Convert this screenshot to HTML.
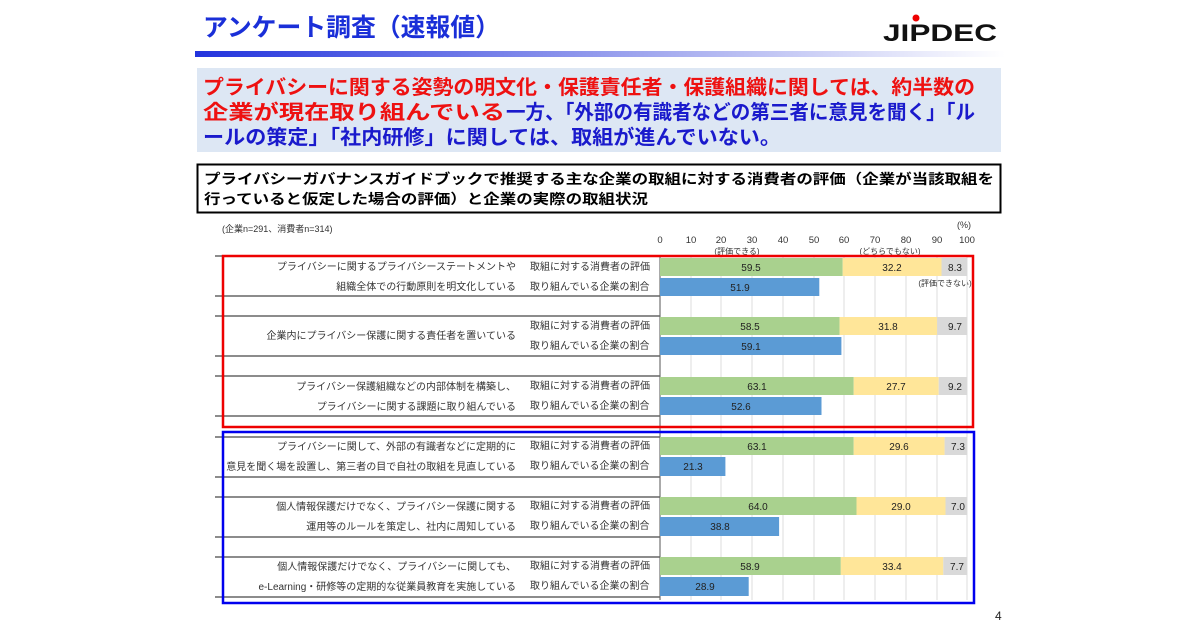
<!DOCTYPE html>
<html><head><meta charset="utf-8"><style>
body{margin:0;width:1200px;height:630px;background:#fff;overflow:hidden;font-family:"Liberation Sans","Noto Sans CJK JP",sans-serif}
</style></head><body>
<svg width="1200" height="630" xmlns="http://www.w3.org/2000/svg" font-family="Liberation Sans, Noto Sans CJK JP, sans-serif">
<defs><linearGradient id="g" x1="0" x2="1"><stop offset="0" stop-color="#2233dd"/><stop offset="0.6" stop-color="#aab0f0"/><stop offset="1" stop-color="#fff"/></linearGradient></defs>
<text x="203" y="36" font-size="25" font-weight="bold" fill="#1a2fd8" textLength="297" lengthAdjust="spacingAndGlyphs">アンケート調査（速報値）</text>
<text x="883" y="41" font-size="24" font-weight="bold" fill="#111" textLength="114" lengthAdjust="spacingAndGlyphs">JIPDEC</text>
<circle cx="916" cy="18" r="3.5" fill="#e00"/>
<rect x="195" y="51" width="810" height="6" fill="url(#g)"/>
<rect x="197" y="68" width="804" height="84" fill="#dde7f4"/>
<g font-size="20" font-weight="bold">
<text x="203" y="94" fill="#ee1111" textLength="772" lengthAdjust="spacingAndGlyphs">プライバシーに関する姿勢の明文化・保護責任者・保護組織に関しては、約半数の</text>
<text x="203" y="119" fill="#ee1111" textLength="302" lengthAdjust="spacingAndGlyphs">企業が現在取り組んでいる</text>
<text x="506" y="119" fill="#1a1acc" textLength="469" lengthAdjust="spacingAndGlyphs">一方、「外部の有識者などの第三者に意見を聞く」「ル</text>
<text x="203" y="144" fill="#1a1acc" textLength="578" lengthAdjust="spacingAndGlyphs">ールの策定」「社内研修」に関しては、取組が進んでいない。</text>
</g>
<rect x="197.5" y="164.5" width="803" height="48" fill="#fff" stroke="#000" stroke-width="2"/>
<g font-size="14" font-weight="bold" fill="#000">
<text x="204" y="184" textLength="790" lengthAdjust="spacingAndGlyphs">プライバシーガバナンスガイドブックで推奨する主な企業の取組に対する消費者の評価（企業が当該取組を</text>
<text x="204" y="204" textLength="444" lengthAdjust="spacingAndGlyphs">行っていると仮定した場合の評価）と企業の実際の取組状況</text>
</g>
<text x="222" y="232" font-size="9" fill="#333">(企業n=291、消費者n=314)</text>
<text x="957" y="228" font-size="9" fill="#333">(%)</text>
<g font-size="9.5" fill="#333" text-anchor="middle">
<text x="660" y="243">0</text><text x="691" y="243">10</text><text x="721" y="243">20</text><text x="752" y="243">30</text><text x="783" y="243">40</text><text x="814" y="243">50</text><text x="844" y="243">60</text><text x="875" y="243">70</text><text x="906" y="243">80</text><text x="937" y="243">90</text><text x="967" y="243">100</text>
<text x="737" y="254" font-size="8">(評価できる)</text><text x="890" y="254" font-size="8">(どちらでもない)</text><text x="945" y="286" font-size="8">(評価できない)</text>
</g>
<g stroke="#ddd" stroke-width="1">
<line x1="691" y1="255" x2="691" y2="600"/><line x1="721" y1="255" x2="721" y2="600"/><line x1="752" y1="255" x2="752" y2="600"/><line x1="783" y1="255" x2="783" y2="600"/><line x1="814" y1="255" x2="814" y2="600"/><line x1="844" y1="255" x2="844" y2="600"/><line x1="875" y1="255" x2="875" y2="600"/><line x1="906" y1="255" x2="906" y2="600"/><line x1="937" y1="255" x2="937" y2="600"/><line x1="967" y1="255" x2="967" y2="600"/>
</g>
<line x1="660" y1="255" x2="660" y2="600" stroke="#555"/>
<g stroke="#666" stroke-width="1.5">
<line x1="215" y1="256" x2="660" y2="256"/><line x1="215" y1="296" x2="660" y2="296"/>
<line x1="215" y1="316" x2="660" y2="316"/><line x1="215" y1="356" x2="660" y2="356"/>
<line x1="215" y1="376" x2="660" y2="376"/><line x1="215" y1="416" x2="660" y2="416"/>
<line x1="215" y1="437" x2="660" y2="437"/><line x1="215" y1="477" x2="660" y2="477"/>
<line x1="215" y1="497" x2="660" y2="497"/><line x1="215" y1="537" x2="660" y2="537"/>
<line x1="215" y1="557" x2="660" y2="557"/><line x1="215" y1="597" x2="660" y2="597"/>
</g>
<g>
<rect x="660" y="258" width="182.7" height="18" fill="#a9d18e"/><rect x="842.7" y="258" width="98.8" height="18" fill="#ffe699"/><rect x="941.5" y="258" width="25.5" height="18" fill="#d9d9d9"/><rect x="660" y="278" width="159.3" height="18" fill="#5b9bd5"/>
<rect x="660" y="317" width="179.6" height="18" fill="#a9d18e"/><rect x="839.6" y="317" width="97.6" height="18" fill="#ffe699"/><rect x="937.2" y="317" width="29.8" height="18" fill="#d9d9d9"/><rect x="660" y="337" width="181.4" height="18" fill="#5b9bd5"/>
<rect x="660" y="377" width="193.7" height="18" fill="#a9d18e"/><rect x="853.7" y="377" width="85" height="18" fill="#ffe699"/><rect x="938.7" y="377" width="28.3" height="18" fill="#d9d9d9"/><rect x="660" y="397" width="161.5" height="18" fill="#5b9bd5"/>
<rect x="660" y="437" width="193.7" height="18" fill="#a9d18e"/><rect x="853.7" y="437" width="90.9" height="18" fill="#ffe699"/><rect x="944.6" y="437" width="22.4" height="18" fill="#d9d9d9"/><rect x="660" y="457" width="65.4" height="19" fill="#5b9bd5"/>
<rect x="660" y="497" width="196.5" height="18" fill="#a9d18e"/><rect x="856.5" y="497" width="89" height="18" fill="#ffe699"/><rect x="945.5" y="497" width="21.5" height="18" fill="#d9d9d9"/><rect x="660" y="517" width="119.1" height="19" fill="#5b9bd5"/>
<rect x="660" y="557" width="180.8" height="18" fill="#a9d18e"/><rect x="840.8" y="557" width="102.5" height="18" fill="#ffe699"/><rect x="943.3" y="557" width="23.7" height="18" fill="#d9d9d9"/><rect x="660" y="577" width="88.7" height="19" fill="#5b9bd5"/>
</g>
<g font-size="10" fill="#222" text-anchor="middle">
<text x="751" y="271">59.5</text><text x="892" y="271">32.2</text><text x="955" y="271">8.3</text><text x="740" y="291">51.9</text>
<text x="750" y="330">58.5</text><text x="888" y="330">31.8</text><text x="955" y="330">9.7</text><text x="751" y="350">59.1</text>
<text x="757" y="390">63.1</text><text x="896" y="390">27.7</text><text x="955" y="390">9.2</text><text x="741" y="410">52.6</text>
<text x="757" y="450">63.1</text><text x="899" y="450">29.6</text><text x="958" y="450">7.3</text><text x="693" y="470">21.3</text>
<text x="758" y="510">64.0</text><text x="901" y="510">29.0</text><text x="958" y="510">7.0</text><text x="720" y="530">38.8</text>
<text x="750" y="570">58.9</text><text x="892" y="570">33.4</text><text x="957" y="570">7.7</text><text x="705" y="590">28.9</text>
</g>
<g font-size="10" fill="#333">
<g text-anchor="end">
<text x="516" y="270">プライバシーに関するプライバシーステートメントや</text><text x="516" y="290">組織全体での行動原則を明文化している</text>
<text x="516" y="339">企業内にプライバシー保護に関する責任者を置いている</text>
<text x="516" y="390">プライバシー保護組織などの内部体制を構築し、</text><text x="516" y="410">プライバシーに関する課題に取り組んでいる</text>
<text x="516" y="450">プライバシーに関して、外部の有識者などに定期的に</text><text x="516" y="470">意見を聞く場を設置し、第三者の目で自社の取組を見直している</text>
<text x="516" y="510">個人情報保護だけでなく、プライバシー保護に関する</text><text x="516" y="530">運用等のルールを策定し、社内に周知している</text>
<text x="516" y="570">個人情報保護だけでなく、プライバシーに関しても、</text><text x="516" y="590">e-Learning・研修等の定期的な従業員教育を実施している</text>
</g>
<text x="530" y="270">取組に対する消費者の評価</text><text x="530" y="290">取り組んでいる企業の割合</text>
<text x="530" y="329">取組に対する消費者の評価</text><text x="530" y="349">取り組んでいる企業の割合</text>
<text x="530" y="389">取組に対する消費者の評価</text><text x="530" y="409">取り組んでいる企業の割合</text>
<text x="530" y="449">取組に対する消費者の評価</text><text x="530" y="469">取り組んでいる企業の割合</text>
<text x="530" y="509">取組に対する消費者の評価</text><text x="530" y="529">取り組んでいる企業の割合</text>
<text x="530" y="569">取組に対する消費者の評価</text><text x="530" y="589">取り組んでいる企業の割合</text>
</g>
<rect x="223" y="256" width="750" height="171" fill="none" stroke="#ee0000" stroke-width="2.5"/>
<rect x="223" y="432" width="751" height="171" fill="none" stroke="#0000ee" stroke-width="2.5"/>
<text x="995" y="620" font-size="12" fill="#222">4</text>
</svg>
</body></html>
